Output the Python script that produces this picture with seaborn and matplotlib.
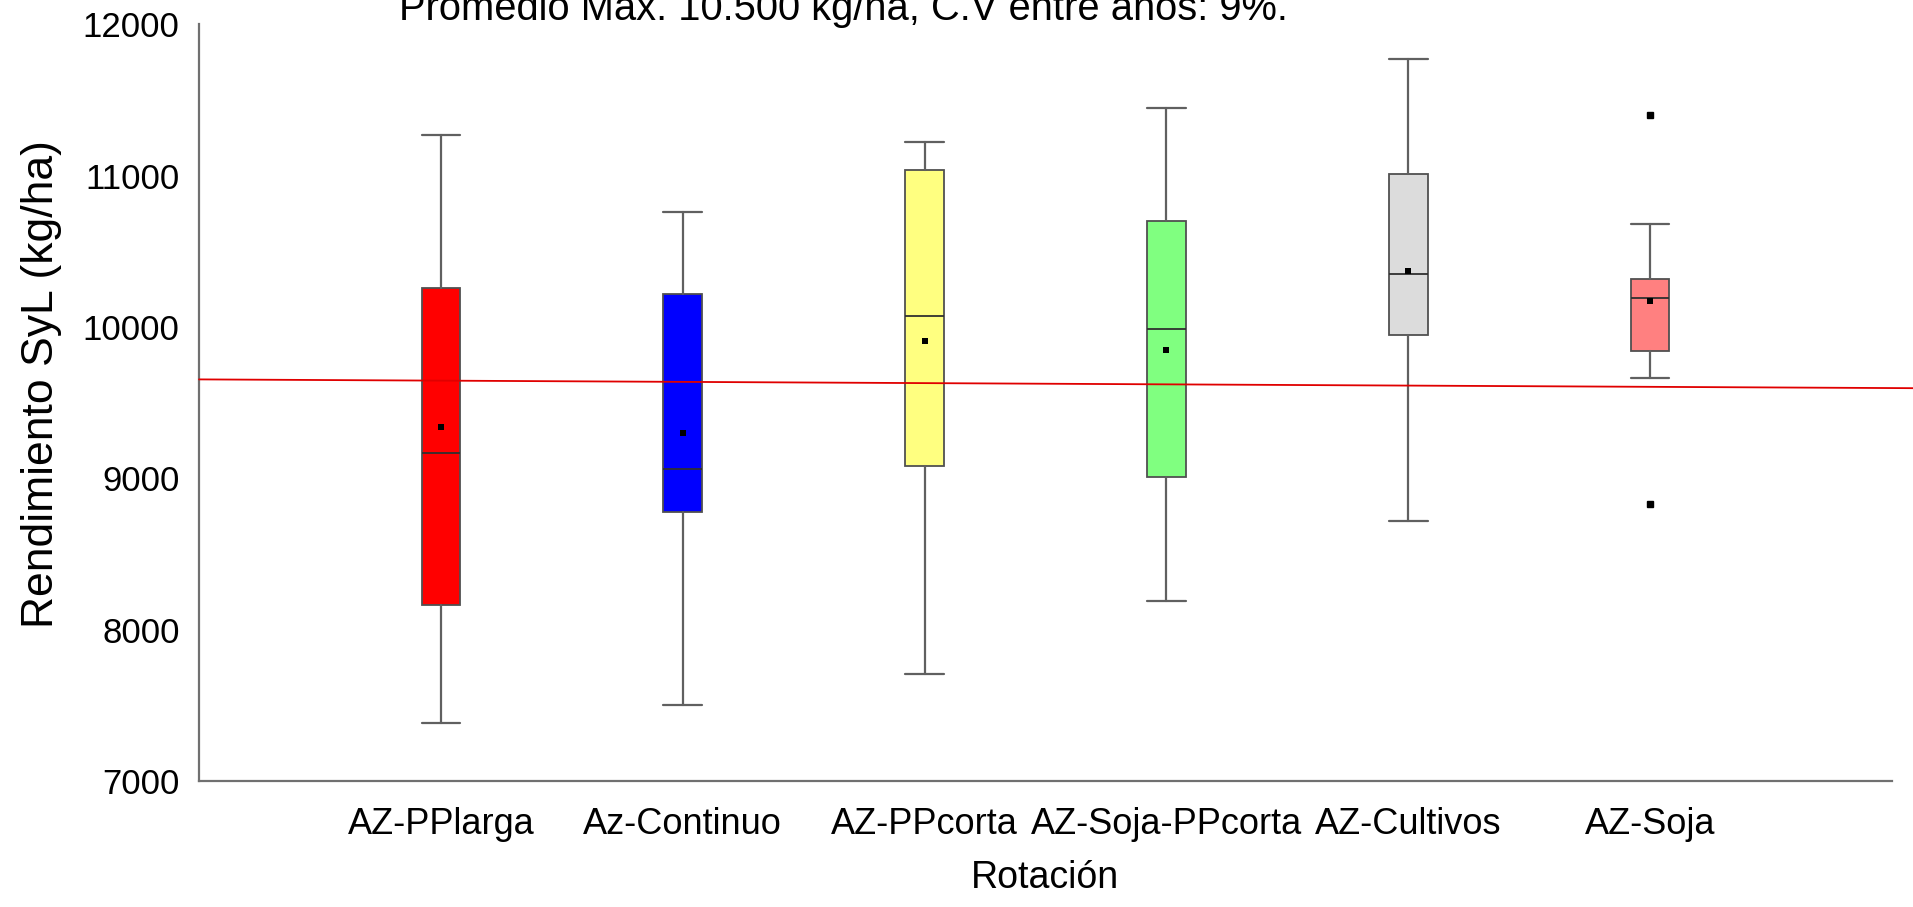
import matplotlib
matplotlib.use("Agg")
import matplotlib.pyplot as plt
import seaborn as sns
import pandas as pd

# ---- data ----
categories = ["AZ-PPlarga", "Az-Continuo", "AZ-PPcorta", "AZ-Soja-PPcorta", "AZ-Cultivos", "AZ-Soja"]
whisker_low = [7380, 7500, 7710, 8190, 8720, 9660]
q1_values = [8160, 8780, 9080, 9010, 9950, 9840]
median_values = [9170, 9060, 10070, 9990, 10350, 10190]
q3_values = [10260, 10220, 11040, 10700, 11010, 10320]
whisker_high = [11270, 10760, 11220, 11450, 11770, 10680]
mean_values = [9340, 9300, 9910, 9850, 10370, 10170]
outlier_category = ["AZ-Soja", "AZ-Soja"]
outlier_values = [11400, 8830]
box_colors = ["#FF0000", "#0000FF", "#FFFF80", "#80FF80", "#DCDCDC", "#FF8080"]
trend_x = [-1.0, 6.087]
trend_y = [9654, 9596]
title_text = "Promedio Max. 10.500 kg/ha, C.V entre años: 9%."
y_ticks = [7000, 8000, 9000, 10000, 11000, 12000]

sns.set_style("white")
plt.rcParams["font.family"] = ["Liberation Sans", "DejaVu Sans"]
plt.rcParams["text.color"] = "black"
plt.rcParams["axes.labelcolor"] = "black"

W, H = 1913, 907
fig = plt.figure(figsize=(W / 100, H / 100), dpi=100)
ax = fig.add_axes([199 / W, 1 - 781 / H, 1 - 199 / W, (781 - 24.4) / H])

pos = {c: i for i, c in enumerate(categories)}
stats = []
for i, c in enumerate(categories):
    fl = [v for oc, v in zip(outlier_category, outlier_values) if oc == c]
    stats.append(dict(label=c, whislo=whisker_low[i], q1=q1_values[i], med=median_values[i],
                      q3=q3_values[i], whishi=whisker_high[i], fliers=fl))

bp = ax.bxp(stats, positions=list(range(len(categories))), widths=0.16, patch_artist=True,
            showfliers=True,
            boxprops=dict(edgecolor="#505050", linewidth=1.3),
            whiskerprops=dict(color="#606060", linewidth=1.6),
            capprops=dict(color="#606060", linewidth=1.6),
            medianprops=dict(color="#303030", linewidth=1.3),
            flierprops=dict(marker="s", markerfacecolor="black", markeredgecolor="black",
                            markersize=5, linestyle="none"),
            capwidths=0.16)
for patch, col in zip(bp["boxes"], box_colors):
    patch.set_facecolor(col)

# trend line
sns.lineplot(x=trend_x, y=trend_y, ax=ax, color="#E00000", linewidth=1.3, zorder=5, clip_on=False)

# mean markers
mean_df = pd.DataFrame({"x": [pos[c] for c in categories], "y": mean_values})
sns.scatterplot(data=mean_df, x="x", y="y", ax=ax, marker="s", color="black", s=24,
                edgecolor="black", linewidth=0, zorder=6)

ax.set_xlim(-1, 6.087)
ax.set_ylim(7000, 12000)
ax.set_xticks(list(range(-1, 7)))
ax.set_xticklabels([""] + categories + [""], fontsize=26)
ax.set_yticks(y_ticks)
ax.set_yticklabels([str(v) for v in y_ticks], fontsize=25)

for s in ["top", "right"]:
    ax.spines[s].set_visible(False)
for s in ["left", "bottom"]:
    ax.spines[s].set_color("#707070")
    ax.spines[s].set_linewidth(1.6)
ax.spines["bottom"].set_bounds(-1, 6)
ax.tick_params(axis="both", which="major", direction="out", length=8, width=1.3, color="#707070",
               labelcolor="black")
ax.tick_params(axis="x", pad=11)
ax.tick_params(axis="y", pad=6)

ax.set_xlabel("Rotación", fontsize=27)
ax.xaxis.set_label_coords(0.4936, -0.105)
ax.set_ylabel("Rendimiento SyL (kg/ha)", fontsize=32)
ax.yaxis.set_label_coords(-0.0800, 0.524)

fig.text(399 / W, 1 - 20 / H, title_text, ha="left", va="baseline", fontsize=28.7)

fig.savefig("out.png", dpi=100, facecolor="white")
